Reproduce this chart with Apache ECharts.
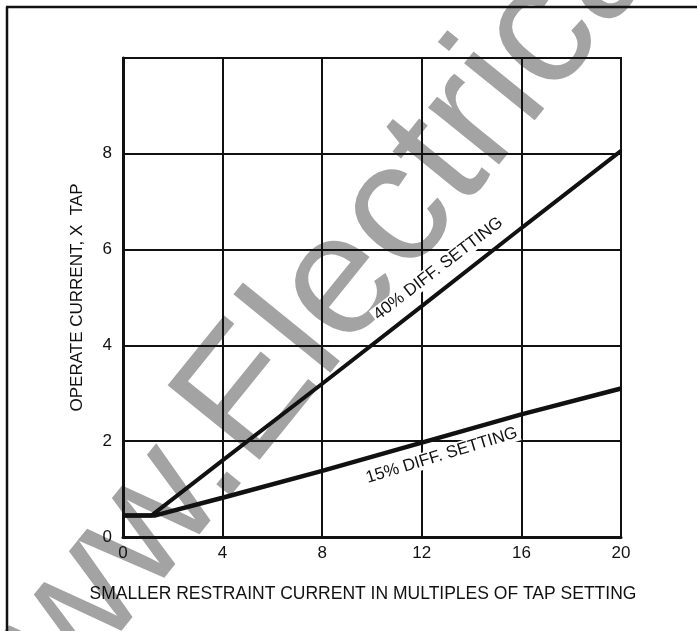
<!DOCTYPE html>
<html>
<head>
<meta charset="utf-8">
<script src="https://cdn.jsdelivr.net/npm/echarts@6/dist/echarts.min.js"></script>
<style>
  html, body { margin: 0; padding: 0; background: #fff; }
  #chart { width: 697px; height: 631px; }
</style>
</head>
<body>
<div id="chart"></div>
<script>
// restraint current (x tap) and operate current (x tap) for each setting
var restraint40 = [0, 1.15, 4, 8, 12, 16, 20];
var operate40 = [0.45, 0.45, 1.6, 3.2, 4.82, 6.45, 8.06];
var restraint15 = [0, 1.3, 4, 8, 12, 16, 20];
var operate15 = [0.45, 0.45, 0.82, 1.38, 1.97, 2.56, 3.1];
var xTicks = [0, 4, 8, 12, 16, 20];
var yTicks = [0, 2, 4, 6, 8];

function pairs(xs, ys) {
  return xs.map(function (x, i) { return [x, ys[i]]; });
}

var font = "'Liberation Sans', Arial, sans-serif";
var ink = '#111';
var wmX = 214, wmY = 441, wmRot = 51 * Math.PI / 180;

var chart = echarts.init(document.getElementById('chart'));
chart.setOption({
  backgroundColor: '#fff',
  animation: false,
  textStyle: { fontFamily: font, color: ink },
  grid: {
    left: 123, right: 76, top: 58, bottom: 94,
    show: true, borderColor: ink, borderWidth: 2
  },
  xAxis: {
    type: 'value', min: 0, max: 20, interval: 4,
    name: 'SMALLER RESTRAINT CURRENT IN MULTIPLES OF TAP SETTING',
    nameLocation: 'middle', nameGap: 48,
    nameTextStyle: { fontSize: 17.5, color: ink, fontFamily: font, padding: [0, 18, 0, 0] },
    axisLine: { show: true, lineStyle: { color: ink, width: 3 } },
    axisTick: { show: false },
    axisLabel: {
      fontSize: 17, color: ink, margin: 8,
      formatter: function (v) { return xTicks.indexOf(v) >= 0 ? String(v) : ''; }
    },
    splitLine: { show: true, lineStyle: { color: ink, width: 2 } }
  },
  yAxis: {
    type: 'value', min: 0, max: 10, interval: 2,
    name: 'OPERATE CURRENT, X  TAP',
    nameLocation: 'middle', nameGap: 37, nameRotate: 90,
    nameTextStyle: { fontSize: 17, color: ink, fontFamily: font },
    axisLine: { show: true, lineStyle: { color: ink, width: 3 } },
    axisTick: { show: false },
    axisLabel: {
      fontSize: 17, color: ink, margin: 11,
      formatter: function (v) { return yTicks.indexOf(v) >= 0 ? String(v) : ''; }
    },
    splitLine: { show: true, lineStyle: { color: ink, width: 2 } }
  },
  graphic: [
    { type: 'line', shape: { x1: 6, y1: 7, x2: 697, y2: 7 }, style: { stroke: ink, lineWidth: 2.5 }, z: 100 },
    { type: 'line', shape: { x1: 7, y1: 7, x2: 7, y2: 631 }, style: { stroke: ink, lineWidth: 2.5 }, z: 100 },
    {
      type: 'text', x: wmX, y: wmY, rotation: wmRot, z: -10, silent: true,
      style: { text: 'ElectricalPartManuals.com', fontSize: 172, fontFamily: font, fill: '#a3a3a3', align: 'left', verticalAlign: 'middle' }
    },
    {
      type: 'text', x: wmX, y: wmY, rotation: wmRot, z: -10, silent: true,
      style: { text: 'www.', fontSize: 172, fontFamily: font, fill: '#a3a3a3', align: 'right', verticalAlign: 'middle' }
    }
  ],
  series: [
    {
      name: '40% DIFF. SETTING',
      type: 'line',
      data: pairs(restraint40, operate40),
      showSymbol: false,
      lineStyle: { color: ink, width: 4 },
      z: 5,
      markPoint: {
        symbol: 'circle', symbolSize: 0,
        label: {
          show: true, position: 'inside', rotate: 37.5,
          fontSize: 17, color: ink, fontFamily: font,
          backgroundColor: '#fff', padding: [0, 2],
          formatter: '40% DIFF. SETTING'
        },
        data: [{ coord: [12.66, 5.6] }]
      }
    },
    {
      name: '15% DIFF. SETTING',
      type: 'line',
      data: pairs(restraint15, operate15),
      showSymbol: false,
      lineStyle: { color: ink, width: 4.5 },
      z: 5,
      markPoint: {
        symbol: 'circle', symbolSize: 0,
        label: {
          show: true, position: 'inside', rotate: 17,
          fontSize: 17, color: ink, fontFamily: font,
          backgroundColor: '#fff', padding: [0, 2],
          formatter: '15% DIFF. SETTING'
        },
        data: [{ coord: [12.8, 1.7] }]
      }
    }
  ]
});
</script>
</body>
</html>
